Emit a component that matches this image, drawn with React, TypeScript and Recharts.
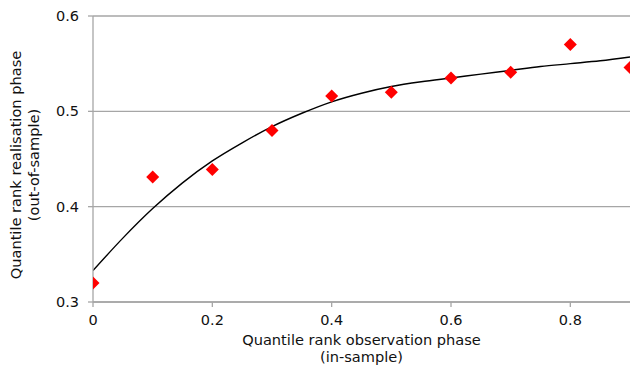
import React from 'react';
import { ComposedChart, CartesianGrid, XAxis, YAxis, Line, Scatter, Label } from 'recharts';

// observed quantile ranks (red diamonds)
const obsX = [0, 0.1, 0.2, 0.3, 0.4, 0.5, 0.6, 0.7, 0.8, 0.9];
const obsY = [0.320, 0.431, 0.439, 0.480, 0.516, 0.520, 0.535, 0.541, 0.570, 0.546];

// fitted trend curve
const fitX = [0, 0.05, 0.1, 0.15, 0.2, 0.25, 0.3, 0.35, 0.4, 0.45, 0.5, 0.55, 0.6, 0.65, 0.7, 0.75, 0.8, 0.85, 0.9];
const fitY = [0.333, 0.367, 0.398, 0.425, 0.448, 0.467, 0.484, 0.498, 0.510, 0.519, 0.526, 0.531, 0.535, 0.539, 0.543, 0.547, 0.550, 0.553, 0.557];

const xTicks = [0, 0.2, 0.4, 0.6, 0.8];
const yTicks = [0.3, 0.4, 0.5, 0.6];

const xTitle = ['Quantile rank observation phase', '(in-sample)'];
const yTitle = ['Quantile rank realisation phase', '(out-of-sample)'];

const points = obsX.map((x, i) => ({ x, y: obsY[i] }));
const curve = fitX.map((x, i) => ({ x, fit: fitY[i] }));

const FONT = '"DejaVu Sans", Verdana, sans-serif';
const GRID = '#a6a6a6';
const INK = '#111';

const Diamond = (props: any) => {
    const { cx, cy } = props;
    const r = 6.5;
    return <polygon points={`${cx},${cy - r} ${cx + r},${cy} ${cx},${cy + r} ${cx - r},${cy}`} fill="#ff0000" />;
};

const XTitle = (props: any) => {
    const { x, y, width } = props.viewBox;
    const cx = x + width / 2;
    return (
        <text x={cx} textAnchor="middle" fontSize={14.6} fontFamily={FONT} fill={INK}>
            <tspan x={cx} y={y + 43}>{xTitle[0]}</tspan>
            <tspan x={cx} y={y + 60}>{xTitle[1]}</tspan>
        </text>
    );
};

const YTitle = (props: any) => {
    const { y, height } = props.viewBox;
    const cy = y + height / 2 + 6;
    return (
        <g>
            <text transform={`translate(21, ${cy}) rotate(-90)`} textAnchor="middle" fontSize={14.6} fontFamily={FONT} fill={INK}>{yTitle[0]}</text>
            <text transform={`translate(39, ${cy}) rotate(-90)`} textAnchor="middle" fontSize={14.6} fontFamily={FONT} fill={INK}>{yTitle[1]}</text>
        </g>
    );
};

const App: React.FC = () => {
    return (
        <div style={{ position: 'absolute', left: 0, top: 0, width: 632, height: 367, background: '#fff' }}>
            <ComposedChart width={632} height={367} margin={{ top: 16, right: 2, left: 0, bottom: 0 }}>
                <CartesianGrid vertical={false} stroke={GRID} strokeWidth={1.3} />
                <XAxis
                    type="number"
                    dataKey="x"
                    domain={[0, 0.9]}
                    ticks={xTicks}
                    allowDataOverflow
                    height={65}
                    stroke={GRID}
                    strokeWidth={1.3}
                    tickSize={5}
                    tickMargin={8}
                    tick={{ fontSize: 14.5, fontFamily: FONT, fill: INK }}
                    tickFormatter={(v: number) => (v === 0 ? '0' : v.toFixed(1))}
                >
                    <Label content={<XTitle />} />
                </XAxis>
                <YAxis
                    type="number"
                    domain={[0.3, 0.6]}
                    ticks={yTicks}
                    allowDataOverflow
                    width={93}
                    stroke={GRID}
                    strokeWidth={1.3}
                    tickSize={5}
                    tickMargin={9}
                    tick={{ fontSize: 14.5, fontFamily: FONT, fill: INK }}
                    tickFormatter={(v: number) => v.toFixed(1)}
                >
                    <Label content={<YTitle />} />
                </YAxis>
                <Line
                    data={curve}
                    dataKey="fit"
                    type="monotone"
                    stroke="#000"
                    strokeWidth={1.4}
                    dot={false}
                    activeDot={false}
                    isAnimationActive={false}
                />
                <Scatter data={points} dataKey="y" shape={<Diamond />} isAnimationActive={false} />
            </ComposedChart>
        </div>
    );
};

export default App;
